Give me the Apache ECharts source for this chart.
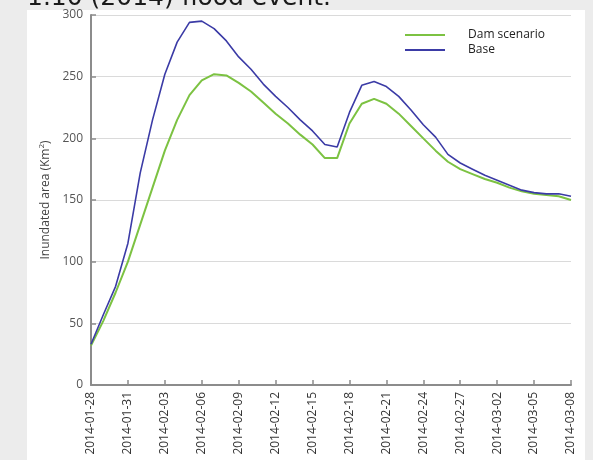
<!DOCTYPE html>
<html>
<head>
<meta charset="utf-8">
<style>
  html, body { margin: 0; padding: 0; background: #ececec; }
  #chart { width: 593px; height: 460px; }
</style>
<script src="https://cdn.jsdelivr.net/npm/echarts@6/dist/echarts.min.js"></script>
</head>
<body>
<div id="chart"></div>
<script>
// Daily dates of the flood event
const dates = [
  '2014-01-28','2014-01-29','2014-01-30','2014-01-31','2014-02-01','2014-02-02','2014-02-03',
  '2014-02-04','2014-02-05','2014-02-06','2014-02-07','2014-02-08','2014-02-09','2014-02-10',
  '2014-02-11','2014-02-12','2014-02-13','2014-02-14','2014-02-15','2014-02-16','2014-02-17',
  '2014-02-18','2014-02-19','2014-02-20','2014-02-21','2014-02-22','2014-02-23','2014-02-24',
  '2014-02-25','2014-02-26','2014-02-27','2014-02-28','2014-03-01','2014-03-02','2014-03-03',
  '2014-03-04','2014-03-05','2014-03-06','2014-03-07','2014-03-08'
];

// Inundated area (km²) with the dam in place
const damScenario = [
  32, 52, 75, 100, 130, 160, 190, 215, 235, 247, 252, 251, 245, 238,
  229, 220, 212, 203, 195, 184, 184, 212, 228, 232, 228, 220, 210, 200,
  190, 181, 175, 171, 167, 164, 160, 157, 155, 154, 153, 150
];

// Inundated area (km²) without the dam
const base = [
  33, 57, 80, 115, 172, 215, 252, 278, 294, 295, 289, 279, 266, 256,
  244, 234, 225, 215, 206, 195, 193, 221, 243, 246, 242, 234, 223, 211,
  201, 187, 180, 175, 170, 166, 162, 158, 156, 155, 155, 153
];

const yTicks = { min: 0, max: 300, step: 50 };

const chart = echarts.init(document.getElementById('chart'), null, { renderer: 'canvas' });
const font = 'Open Sans';

chart.setOption({
  backgroundColor: '#ececec',
  animation: false,
  graphic: [
    {
      type: 'rect', z: -10, silent: true,
      shape: { x: 27, y: 10, width: 558, height: 450 },
      style: { fill: '#ffffff' }
    },
    {
      type: 'text', z: 10, silent: true,
      x: 27, y: 11,
      style: {
        text: '1.10 (2014) flood event.',
        font: '25px "DejaVu Sans"',
        fill: '#1a1a1a',
        verticalAlign: 'bottom',
        align: 'left'
      }
    }
  ],
  grid: { left: 91, right: 22, top: 15, bottom: 75, containLabel: false },
  legend: {
    orient: 'vertical',
    left: 405, top: 28,
    padding: 0,
    icon: 'rect',
    itemWidth: 40, itemHeight: 2,
    itemGap: 1,
    textStyle: {
      fontFamily: font, fontSize: 12, color: '#222',
      lineHeight: 14, padding: [0, 0, 0, 18]
    },
    data: ['Dam scenario', 'Base']
  },
  xAxis: {
    type: 'category',
    data: dates,
    boundaryGap: false,
    axisLine: { lineStyle: { color: '#8c8c8c', width: 2 } },
    axisTick: { show: true, inside: true, length: 5, interval: 2, lineStyle: { color: '#8c8c8c', width: 1.5 } },
    axisLabel: {
      interval: 2, rotate: 90, margin: 7,
      fontFamily: font, fontSize: 12, color: '#333'
    },
    splitLine: { show: false }
  },
  yAxis: {
    type: 'value',
    min: yTicks.min, max: yTicks.max, interval: yTicks.step,
    name: 'Inundated area (Km{sup|2})',
    nameLocation: 'middle',
    nameGap: 37,
    nameTextStyle: {
      fontFamily: font, fontSize: 12, color: '#444',
      rich: { sup: { fontFamily: font, fontSize: 8, color: '#444', verticalAlign: 'top', padding: [0, 0, 8, 0] } }
    },
    axisLine: { show: true, lineStyle: { color: '#8c8c8c', width: 2 } },
    axisTick: { show: true, inside: true, length: 5, lineStyle: { color: '#8c8c8c', width: 1.5 } },
    axisLabel: { margin: 8, fontFamily: font, fontSize: 12, color: '#555' },
    splitLine: { show: true, lineStyle: { color: '#dadada', width: 1 } }
  },
  series: [
    {
      name: 'Dam scenario', type: 'line', data: damScenario,
      showSymbol: false, symbol: 'none', smooth: false,
      lineStyle: { color: '#7cc242', width: 2 },
      itemStyle: { color: '#7cc242' }
    },
    {
      name: 'Base', type: 'line', data: base,
      showSymbol: false, symbol: 'none', smooth: false,
      lineStyle: { color: '#3b3ba6', width: 1.6 },
      itemStyle: { color: '#3b3ba6' }
    }
  ]
});
</script>
</body>
</html>
